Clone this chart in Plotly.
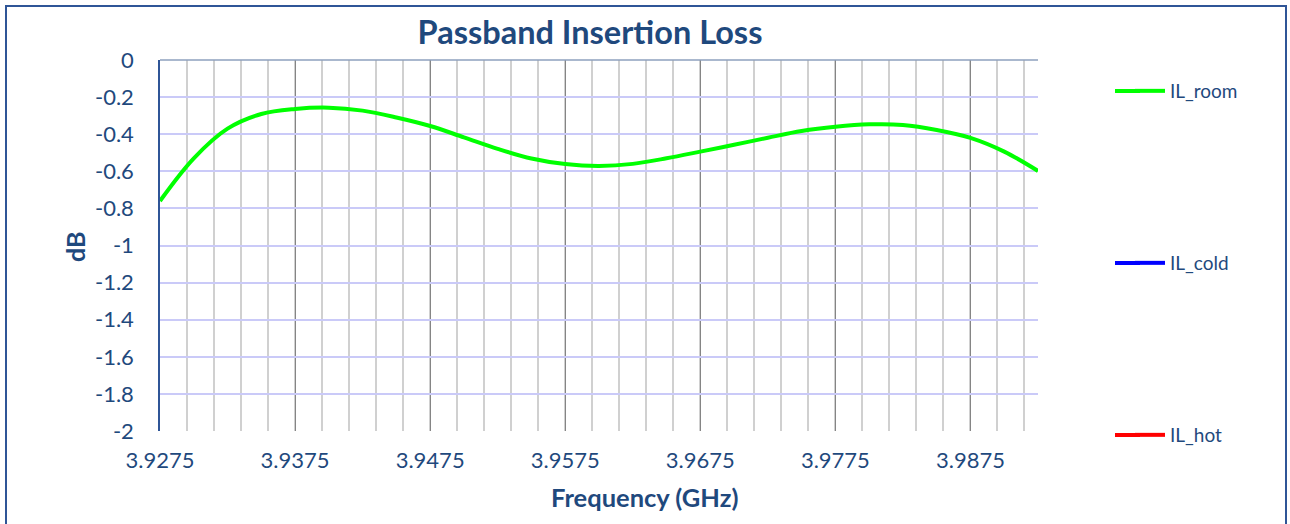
import plotly.graph_objects as go

# Data
freq_ghz = [3.9275, 3.9300, 3.9325, 3.9350, 3.9375, 3.9400, 3.9425, 3.9450,
            3.9475, 3.9500, 3.9525, 3.9550, 3.9575, 3.9600, 3.9625, 3.9650,
            3.9675, 3.9700, 3.9725, 3.9750, 3.9775, 3.9800, 3.9825, 3.9850,
            3.9875, 3.9900, 3.9925]
il_room = [-0.76, -0.53, -0.37, -0.291, -0.264, -0.257, -0.273, -0.31,
           -0.356, -0.417, -0.479, -0.531, -0.561, -0.571, -0.560, -0.530,
           -0.494, -0.457, -0.419, -0.383, -0.360, -0.347, -0.350, -0.377,
           -0.420, -0.494, -0.598]
il_cold = [None]
il_hot = [None]

x_tick_vals = [3.9275, 3.9375, 3.9475, 3.9575, 3.9675, 3.9775, 3.9875]
x_tick_text = ["3.9275", "3.9375", "3.9475", "3.9575", "3.9675", "3.9775", "3.9875"]
y_tick_vals = [0, -0.2, -0.4, -0.6, -0.8, -1, -1.2, -1.4, -1.6, -1.8, -2]
y_tick_text = ["0", "-0.2", "-0.4", "-0.6", "-0.8", "-1", "-1.2", "-1.4", "-1.6", "-1.8", "-2"]

series_names = ["IL_room", "IL_cold", "IL_hot"]
series_colors = ["#00FF00", "#0000FF", "#FF0000"]
legend_rows_px = [91, 263, 435]

TXT = "#1F497D"
FONT = "Lato"

L, R, T, B = 160, 1038, 60, 431
W, H = 1290, 524
pw, ph = R - L, B - T

def px(xp):
    return (xp - L) / pw

def py(yp):
    return (B - yp) / ph

fig = go.Figure()
for name, data, col, leg in zip(series_names, [il_room, il_cold, il_hot], series_colors,
                                ["legend", "legend2", "legend3"]):
    xs = freq_ghz if data is il_room else [None]
    fig.add_trace(go.Scatter(x=xs, y=data, name=name, mode="lines",
                             line=dict(color=col, width=4, shape="spline"),
                             legend=leg))

legend_common = dict(font=dict(family=FONT, size=19, color=TXT),
                     bgcolor="rgba(0,0,0,0)", xanchor="left", yanchor="middle",
                     x=px(1130), borderwidth=0)

fig.update_layout(
    width=W, height=H,
    margin=dict(l=L, r=W - R, t=T, b=H - B, pad=0),
    paper_bgcolor="white", plot_bgcolor="white",
    title=dict(text="<b>Passband Insertion Loss</b>", x=590 / W, xanchor="center",
               y=1 - 33 / H, yanchor="middle",
               font=dict(family=FONT, size=32.5, color=TXT)),
    xaxis=dict(range=[3.9275, 3.9925], tickvals=x_tick_vals, ticktext=x_tick_text,
               showgrid=True, gridcolor="#858585", gridwidth=1,
               minor=dict(dtick=0.002, tick0=3.9275, showgrid=True,
                          gridcolor="#D0D0D0", gridwidth=1.5),
               zeroline=False, showline=False, ticks="", ticklabelstandoff=14,
               tickfont=dict(family=FONT, size=22, color=TXT)),
    yaxis=dict(range=[-2, 0], tickvals=y_tick_vals, ticktext=y_tick_text,
               showgrid=True, gridcolor="#CACAF8", gridwidth=1.5,
               zeroline=False, showline=True, linecolor="#2F5597", linewidth=1.5,
               ticks="", ticklabelstandoff=20,
               tickfont=dict(family=FONT, size=22, color=TXT)),
    legend=dict(**legend_common, y=py(legend_rows_px[0])),
    legend2=dict(**legend_common, y=py(legend_rows_px[1])),
    legend3=dict(**legend_common, y=py(legend_rows_px[2])),
    showlegend=True,
)

# extend legend line samples to the reference's longer keys
for col, yrow in zip(series_colors, legend_rows_px):
    fig.add_shape(type="line", xref="paper", yref="paper",
                  x0=px(1115), x1=px(1140), y0=py(yrow), y1=py(yrow),
                  line=dict(color=col, width=4))

# plot-area top border
fig.add_shape(type="line", xref="paper", yref="paper", x0=0, x1=1, y0=1, y1=1,
              line=dict(color="#8EA0BE", width=1.5))
# outer chart frame
fig.add_shape(type="rect", xref="paper", yref="paper",
              x0=px(6), x1=px(1286), y0=py(6), y1=py(530),
              line=dict(color="#2F5597", width=2))

# axis titles
fig.add_annotation(text="<b>Frequency (GHz)</b>", xref="paper", yref="paper",
                   x=px(644), y=py(497), showarrow=False, xanchor="center", yanchor="middle",
                   font=dict(family=FONT, size=25.5, color=TXT))
fig.add_annotation(text="<b>dB</b>", xref="paper", yref="paper", textangle=-90,
                   x=px(75), y=py(247), showarrow=False, xanchor="center", yanchor="middle",
                   font=dict(family=FONT, size=25, color=TXT))

fig.write_html("out.html", config={"displayModeBar": False},
               post_script="document.body.style.margin='0px';")
